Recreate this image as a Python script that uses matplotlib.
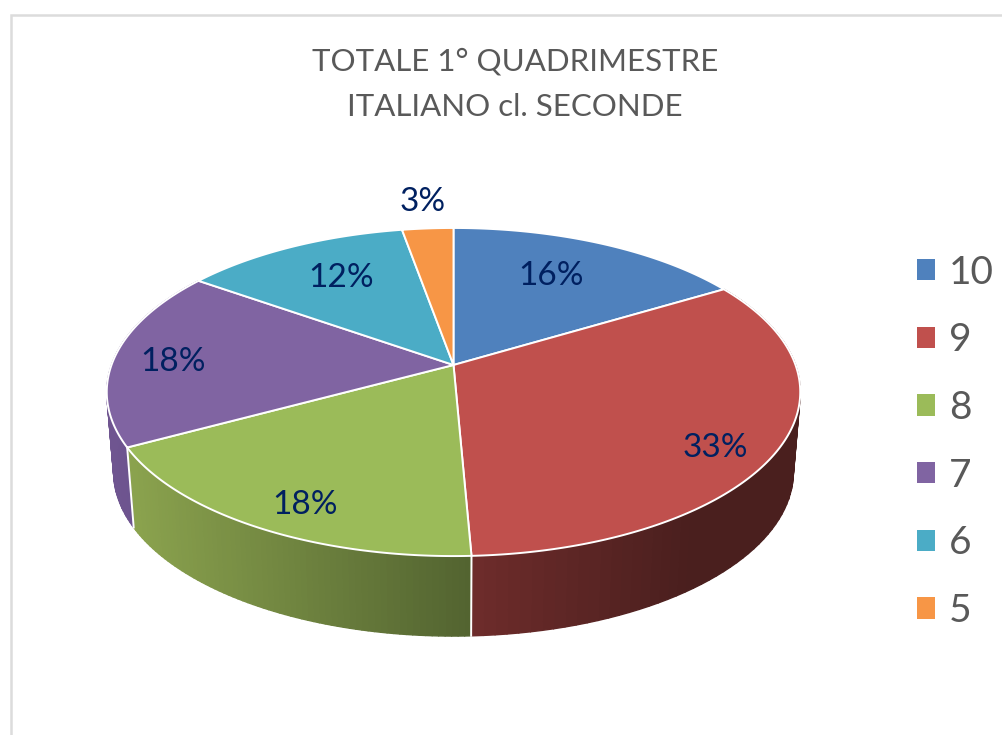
import numpy as np
import matplotlib
matplotlib.use('Agg')
import matplotlib.pyplot as plt
from matplotlib.collections import PolyCollection
from matplotlib.colors import to_rgb
from matplotlib.patches import Patch

# values
grades = ['10', '9', '8', '7', '6', '5']
shares = [16.4, 32.9, 17.8, 17.7, 12.4, 2.8]
top_colors = ['#4f81bd', '#c0504d', '#9bbb59', '#8064a2', '#4bacc6', '#f79646']
# wall shading, left to right
wall_colors = [None,
               ('#6e2c2b', '#4a1f1e'),
               ('#8ba34e', '#526330'),
               ('#6f5590', '#66508a'),
               None, None]
label_xy = [(551, 276), (715, 448), (305, 505), (173, 362), (341, 278), (423, 202)]

title_lines = ['TOTALE 1° QUADRIMESTRE', 'ITALIANO cl. SECONDE']

plt.rcParams['font.family'] = ['Lato', 'DejaVu Sans']

# perspective of the pie top, in pixels
cx, apex_y = 453.5, 365.0
A, B, k = 342.0, 159.6, 0.1647
depth = 80.0
shrink = 0.98


def top_rim(theta, r=1.0):
    w = 1 + k * r * np.cos(theta)
    return cx + A * r * np.sin(theta) / w, apex_y - B * r * np.cos(theta) / w


def low_rim(theta):
    x, y = top_rim(theta)
    return cx + (x - cx) * shrink, y + depth


fig = plt.figure(figsize=(10.03, 7.35), dpi=100)
ax = fig.add_axes([0, 0, 1, 1])
ax.set_xlim(0, 1003)
ax.set_ylim(735, 0)
ax.axis('off')

# chart frame, cut off at right and bottom
ax.plot([11, 11, 1003], [735, 15, 15], color='#dcdcdc', lw=1.8, solid_joinstyle='miter')

vals = np.array(shares) / np.sum(shares)
edges = np.concatenate([[0], np.cumsum(vals)]) * 2 * np.pi

# side walls first, top faces cover the back part
for i in range(len(vals)):
    if wall_colors[i] is None:
        continue
    t = np.linspace(edges[i], edges[i + 1], 70)
    x1, y1 = top_rim(t)
    x2, y2 = low_rim(t)
    quads = []
    cols = []
    c0 = np.array(to_rgb(wall_colors[i][0]))
    c1 = np.array(to_rgb(wall_colors[i][1]))
    lo, hi = x2.min(), x2.max()
    for j in range(len(t) - 1):
        quads.append([(x1[j], y1[j]), (x1[j + 1], y1[j + 1]), (x2[j + 1], y2[j + 1]), (x2[j], y2[j])])
        f = ((x2[j] + x2[j + 1]) / 2 - lo) / (hi - lo)
        if i == 1:
            f = min(1, f * 1.5)
        cols.append(c0 + (c1 - c0) * f)
    ax.add_collection(PolyCollection(quads, facecolors=cols, edgecolors=cols, linewidths=1.0, zorder=2))

# white seams on the front of the wall
for e in [edges[2], edges[3]]:
    xa, ya = top_rim(e)
    xb, yb = low_rim(e)
    ax.plot([xa, xb], [ya, yb], color='white', lw=1.4, zorder=3)

for i in range(len(vals)):
    t = np.linspace(edges[i], edges[i + 1], 200)
    x, y = top_rim(t)
    ax.fill(np.r_[cx, x], np.r_[apex_y, y], facecolor=top_colors[i], edgecolor='white', lw=1.4,
            joinstyle='round', zorder=4)

for i in range(len(vals)):
    ax.text(label_xy[i][0], label_xy[i][1], '%d%%' % round(shares[i]), color='#002060', fontsize=24,
            ha='center', va='center', zorder=5)

ax.text(515, 61, title_lines[0], color='#595959', fontsize=22.5, ha='center', va='center')
ax.text(515, 107, title_lines[1], color='#595959', fontsize=22.5, ha='center', va='center')

handles = [Patch(facecolor=c, edgecolor='none') for c in top_colors]
ax.legend(handles, grades, loc='upper left', bbox_to_anchor=(917, 254.5), bbox_transform=ax.transData,
          frameon=False, fontsize=28, labelcolor='#595959', handlelength=0.47, handleheight=0.47,
          handletextpad=0.35, labelspacing=0.815, borderpad=0, borderaxespad=0)

fig.savefig('out.png', dpi=100)
